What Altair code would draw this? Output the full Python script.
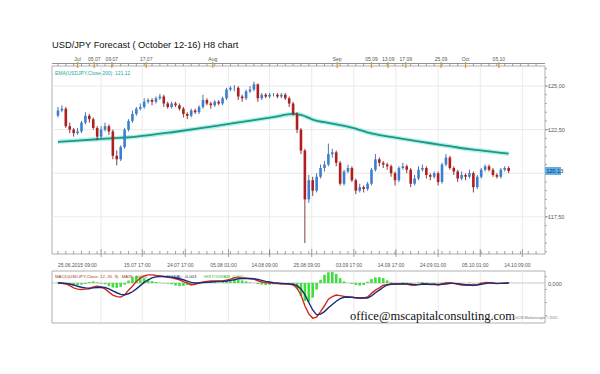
import altair as alt
import pandas as pd

# ---------------- data ----------------
opens = [123.3, 123.6, 123.7, 122.7, 122.5, 122.3, 122.4, 122.9, 123.3, 123.1,
         122.6, 122.1, 122.5, 122.7, 122.4, 121.0, 120.8, 121.5, 122.5, 123.0,
         123.4, 123.7, 123.8, 124.1, 124.2, 124.1, 124.3, 124.4, 124.0, 123.8,
         124.0, 123.9, 123.7, 123.4, 123.3, 123.6, 123.5, 123.8, 124.2, 124.0,
         123.9, 124.1, 124.0, 124.3, 124.8, 124.9, 124.9, 124.4, 124.3, 124.7,
         124.8, 125.1, 124.3, 124.5, 124.4, 124.5, 124.5, 124.4, 124.5, 124.3,
         124.0, 123.4, 122.5, 121.3, 118.5, 119.6, 119.0, 119.8, 120.3, 120.5,
         121.1, 121.2, 120.6, 119.4, 120.1, 120.3, 119.6, 119.0, 119.2, 119.1,
         119.4, 120.2, 120.8, 120.6, 120.5, 120.4, 120.0, 119.6, 120.3, 120.4,
         120.2, 119.4, 119.7, 120.2, 120.3, 119.9, 119.8, 120.0, 119.5, 120.5,
         120.9, 120.3, 120.1, 119.7, 119.9, 119.8, 120.0, 119.2, 119.8, 120.2,
         120.4, 120.2, 119.9, 119.8, 120.2, 120.3]
highs = [123.8, 123.9, 123.8, 122.9, 122.6, 122.6, 123.0, 123.5, 123.4, 123.2,
         122.7, 122.7, 122.9, 122.8, 122.5, 121.3, 121.6, 122.6, 123.1, 123.6,
         123.8, 124.0, 124.3, 124.3, 124.3, 124.4, 124.55, 124.5, 124.1, 124.1,
         124.1, 124.0, 123.8, 123.5, 123.7, 123.7, 123.9, 124.5, 124.3, 124.1,
         124.2, 124.2, 124.4, 124.9, 125.0, 125.05, 125.0, 124.5, 124.8, 125.0,
         125.25, 125.15, 124.6, 124.6, 124.6, 124.6, 124.6, 124.6, 124.6, 124.4,
         124.1, 123.5, 122.6, 121.4, 119.9, 119.8, 120.0, 120.5, 120.7, 121.7,
         121.4, 121.3, 120.7, 120.2, 120.5, 120.4, 119.7, 119.4, 119.3, 119.5,
         120.3, 121.1, 120.9, 120.7, 120.6, 120.5, 120.1, 120.4, 120.6, 120.5,
         120.3, 119.9, 120.4, 120.5, 120.4, 120.0, 120.1, 120.1, 120.6, 121.1,
         121.0, 120.4, 120.2, 120.1, 120.0, 120.2, 120.1, 119.9, 120.3, 120.5,
         120.5, 120.3, 120.0, 120.3, 120.4, 120.4]
lows = [123.2, 123.5, 122.6, 122.3, 122.1, 122.2, 122.3, 122.8, 122.9, 122.5,
        121.9, 122.0, 122.4, 122.2, 120.8, 120.45, 120.7, 121.4, 122.4, 122.9,
        123.3, 123.6, 123.7, 124.0, 123.9, 124.0, 124.2, 123.8, 123.7, 123.7,
        123.8, 123.6, 123.2, 123.1, 123.2, 123.4, 123.4, 123.7, 123.9, 123.7,
        123.8, 123.9, 123.9, 124.2, 124.7, 124.7, 124.2, 124.1, 124.2, 124.6,
        124.7, 124.1, 124.2, 124.3, 124.3, 124.4, 124.3, 124.3, 124.2, 123.8,
        123.3, 122.3, 121.1, 116.0, 118.3, 118.7, 118.9, 119.7, 120.1, 120.4,
        120.9, 120.4, 119.3, 119.3, 120.0, 119.5, 118.8, 118.9, 118.9, 119.0,
        119.3, 120.1, 120.4, 120.3, 120.2, 119.8, 119.3, 119.5, 120.2, 120.0,
        119.2, 119.3, 119.6, 120.1, 119.7, 119.6, 119.7, 119.3, 119.4, 120.4,
        120.2, 119.9, 119.5, 119.6, 119.6, 119.7, 118.9, 119.1, 119.7, 120.1,
        120.1, 119.8, 119.7, 119.7, 120.1, 120.0]
closes = [123.6, 123.7, 122.7, 122.5, 122.3, 122.4, 122.9, 123.3, 123.1, 122.6,
          122.1, 122.5, 122.7, 122.4, 121.0, 120.8, 121.5, 122.5, 123.0, 123.4,
          123.7, 123.8, 124.1, 124.2, 124.1, 124.3, 124.4, 124.0, 123.8, 124.0,
          123.9, 123.7, 123.4, 123.3, 123.6, 123.5, 123.8, 124.2, 124.0, 123.9,
          124.1, 124.0, 124.3, 124.8, 124.9, 124.9, 124.4, 124.3, 124.7, 124.8,
          125.1, 124.3, 124.5, 124.4, 124.5, 124.5, 124.4, 124.5, 124.3, 124.0,
          123.4, 122.5, 121.3, 118.5, 119.6, 119.0, 119.8, 120.3, 120.5, 121.1,
          121.2, 120.6, 119.4, 120.1, 120.3, 119.6, 119.0, 119.2, 119.1, 119.4,
          120.2, 120.8, 120.6, 120.5, 120.4, 120.0, 119.6, 120.3, 120.4, 120.2,
          119.4, 119.7, 120.2, 120.3, 119.9, 119.8, 120.0, 119.5, 120.5, 120.9,
          120.3, 120.1, 119.7, 119.9, 119.8, 120.0, 119.2, 119.8, 120.2, 120.4,
          120.2, 119.9, 119.8, 120.2, 120.3, 120.13]

ema_idx = [0, 10, 20, 30, 40, 50, 55, 60, 62, 65, 70, 75, 80, 85, 90, 95, 100, 105, 110, 115]
ema_vals = [121.80, 121.95, 122.10, 122.38, 122.70, 123.05, 123.22, 123.40, 123.35, 123.08,
            122.85, 122.62, 122.28, 122.08, 121.90, 121.72, 121.55, 121.38, 121.25, 121.12]

macd_main = [0.0, -0.01, -0.03, -0.08, -0.15, -0.19, -0.20, -0.19, -0.18, -0.12,
             -0.10, -0.12, -0.18, -0.28, -0.37, -0.42, -0.43, -0.37, -0.22, -0.10,
             0.05, 0.15, 0.22, 0.25, 0.25, 0.23, 0.22, 0.20, 0.18, 0.16,
             0.13, 0.10, 0.04, 0.0, -0.06, -0.04, 0.0, 0.03, 0.05, 0.06,
             0.06, 0.06, 0.06, 0.09, 0.12, 0.16, 0.18, 0.16, 0.15, 0.13,
             0.12, 0.07, 0.03, 0.01, 0.0, -0.01, -0.02, -0.03, -0.03, -0.03,
             -0.06, -0.15, -0.37, -0.70, -0.95, -1.08, -1.05, -0.88, -0.70, -0.50,
             -0.42, -0.37, -0.39, -0.41, -0.43, -0.44, -0.46, -0.46, -0.46, -0.43,
             -0.32, -0.22, -0.15, -0.07, -0.05, -0.03, -0.04, -0.03, -0.02, -0.03,
             -0.06, -0.07, -0.05, -0.02, -0.03, -0.05, -0.04, -0.06, -0.03, 0.0,
             0.01, -0.01, -0.04, -0.06, -0.07, -0.06, -0.08, -0.05, -0.01, 0.02,
             0.01, -0.01, -0.02, -0.01, 0.0, 0.0]
macd_signal = [0.0, 0.0, -0.01, -0.03, -0.06, -0.10, -0.13, -0.15, -0.16, -0.15,
               -0.14, -0.13, -0.14, -0.18, -0.24, -0.30, -0.35, -0.36, -0.33, -0.27,
               -0.18, -0.08, 0.02, 0.10, 0.16, 0.19, 0.20, 0.20, 0.19, 0.18,
               0.16, 0.13, 0.10, 0.06, 0.02, 0.0, 0.0, 0.01, 0.02, 0.03,
               0.04, 0.05, 0.05, 0.06, 0.08, 0.10, 0.13, 0.14, 0.14, 0.14,
               0.13, 0.11, 0.08, 0.05, 0.03, 0.01, 0.0, -0.01, -0.02, -0.03,
               -0.04, -0.08, -0.18, -0.36, -0.60, -0.83, -0.98, -0.96, -0.88, -0.76,
               -0.66, -0.56, -0.48, -0.44, -0.43, -0.44, -0.45, -0.46, -0.46, -0.46,
               -0.40, -0.30, -0.22, -0.13, -0.06, -0.04, -0.03, -0.03, -0.03, -0.03,
               -0.04, -0.05, -0.05, -0.04, -0.03, -0.04, -0.04, -0.05, -0.04, -0.03,
               -0.01, -0.01, -0.02, -0.04, -0.05, -0.06, -0.06, -0.06, -0.04, -0.02,
               0.0, 0.0, -0.01, -0.01, -0.01, 0.0]
macd_hist = [0.02, 0.0, -0.03, -0.06, -0.08, -0.07, -0.05, -0.03, 0.03, 0.05,
             0.02, -0.02, -0.04, -0.10, -0.14, -0.15, -0.12, -0.05, 0.08, 0.18,
             0.22, 0.20, 0.15, 0.10, 0.06, 0.03, 0.01, -0.01, -0.02, -0.04,
             -0.08, -0.10, -0.09, -0.06, -0.04, -0.02, 0.0, 0.02, 0.03, 0.03,
             0.02, 0.02, 0.04, 0.08, 0.10, 0.12, 0.10, 0.08, 0.05, 0.02,
             0.0, -0.03, -0.05, -0.06, -0.05, -0.04, -0.03, -0.02, -0.02, -0.03,
             -0.06, -0.20, -0.40, -0.55, -0.58, -0.45, -0.20, 0.10, 0.25, 0.33,
             0.34, 0.28, 0.15, 0.05, 0.0, -0.03, -0.06, -0.08, -0.06, 0.04,
             0.12, 0.17, 0.18, 0.15, 0.08, 0.02, 0.01, -0.01, 0.02, 0.01,
             -0.02, -0.01, 0.02, 0.03, 0.01, -0.01, 0.0, -0.02, 0.01, 0.03,
             0.02, 0.0, -0.02, -0.01, 0.0, 0.01, -0.01, 0.0, 0.02, 0.03,
             0.02, 0.01, 0.0, 0.01, 0.02, 0.02]

price_ticks = [125.0, 122.5, 117.5]
price_tick_labels = ["125,00", "122,50", "117,50"]
price_grid = [125.0, 122.5, 120.0, 117.5]
last_price_label = "120,13"

bottom_pos = [0, 21.5, 32.5, 43.5, 54, 64.75, 75.5, 86.25, 97, 107.75, 118.5]
bottom_labels = ["25.06.2015 09:00", "15.07 17:00", "24.07 17:00", "05.08 01:00",
                 "14.08 09:00", "25.08 09:00", "03.09 17:00", "14.09 17:00",
                 "24.09 01:00", "05.10 01:00", "14.10 09:00"]
grid_pos = [11, 21.5, 32.5, 43.5, 54, 64.75, 75.5, 86.25, 97, 107.75, 118.5]

top_pos = [5, 9.25, 13.75, 22.5, 39.5, 71.25, 80, 84.25, 88.75, 97.75, 104, 112.5]
top_labels = ["Jul", "05.07", "09.07", "17.07", "Aug", "Sep", "05.09", "13.09",
              "17.09", "25.09", "Oct", "05.10"]

# ---------------- tables ----------------
n = min(len(opens), len(highs), len(lows), len(closes))
candles = pd.DataFrame({"i": list(range(n)), "open": opens[:n], "high": highs[:n],
                        "low": lows[:n], "close": closes[:n]})
m = min(len(macd_main), len(macd_signal), len(macd_hist))
macd = pd.DataFrame({"i": list(range(m)), "main": macd_main[:m],
                     "signal": macd_signal[:m], "hist": macd_hist[:m]})
ema = pd.DataFrame({"i": ema_idx, "ema": ema_vals})
pgrid = pd.DataFrame({"v": price_grid})
pticks = pd.DataFrame({"v": price_ticks, "label": price_tick_labels})
pminor = pd.DataFrame({"v": [115.5 + 0.5 * k for k in range(22)]})
last = pd.DataFrame({"v": [closes[n - 1]], "label": [last_price_label]})
bottom = pd.DataFrame({"p": bottom_pos, "label": bottom_labels})
vgrid = pd.DataFrame({"p": grid_pos})
top = pd.DataFrame({"p": top_pos, "label": top_labels})
minor_x = pd.DataFrame({"p": [k * 2 for k in range(62)]})
mminor = pd.DataFrame({"v": [-1.0, -0.6, -0.2, 0.2]})
one = pd.DataFrame({"k": [0]})

xs = alt.Scale(domain=[-0.25, 123], range=[52, 545])
ps = alt.Scale(domain=[115.37, 126.15], range=[254, 66], zero=False, nice=False)
ms = alt.Scale(domain=[-1.2, 0.4], range=[322, 270], zero=False, nice=False)

def X(f):
    return alt.X(f, type="quantitative", scale=xs, axis=None)

def PY(f):
    return alt.Y(f, type="quantitative", scale=ps, axis=None)

def MY(f):
    return alt.Y(f, type="quantitative", scale=ms, axis=None)

FONT = "Liberation Sans"
GRID = "#e4e4e4"
FRAME = "#9c9c9c"
UP = "#3b7fd3"
DOWN = "#b01e1e"

layers = []

# panel backgrounds/frames
layers.append(alt.Chart(one).mark_rect(fill="white", stroke=FRAME, strokeWidth=0.8).encode(
    x=alt.value(52), x2=alt.value(545), y=alt.value(66), y2=alt.value(254)))
layers.append(alt.Chart(one).mark_rect(fill="white", stroke=FRAME, strokeWidth=0.8).encode(
    x=alt.value(52), x2=alt.value(545), y=alt.value(271), y2=alt.value(323)))

# vertical grid
layers.append(alt.Chart(vgrid).mark_rule(color=GRID, strokeWidth=0.8).encode(
    x=X("p"), y=alt.value(66), y2=alt.value(254)))
layers.append(alt.Chart(vgrid).mark_rule(color=GRID, strokeWidth=0.8).encode(
    x=X("p"), y=alt.value(271), y2=alt.value(323)))
# horizontal grid
layers.append(alt.Chart(pgrid).mark_rule(color=GRID, strokeWidth=0.8).encode(
    y=PY("v"), x=alt.value(52), x2=alt.value(545)))

# EMA
layers.append(alt.Chart(ema).mark_line(color="#b5eef0", strokeWidth=4.5, interpolate="monotone").encode(
    x=X("i"), y=PY("ema")))
layers.append(alt.Chart(ema).mark_line(color="#1c9a7c", strokeWidth=1.8, interpolate="monotone").encode(
    x=X("i"), y=PY("ema")))

# candles
col_wick = alt.condition("datum.close >= datum.open", alt.value("#24508c"), alt.value("#5e1010"))
col_body = alt.condition("datum.close >= datum.open", alt.value(UP), alt.value(DOWN))
layers.append(alt.Chart(candles).mark_rule(strokeWidth=0.8).encode(
    x=X("i"), y=PY("low"), y2="high", color=col_wick))
layers.append(alt.Chart(candles).mark_bar(size=2.6).encode(
    x=X("i"), y=PY("open"), y2="close", color=col_body))

# right price axis
layers.append(alt.Chart(pminor).mark_rule(color="#777", strokeWidth=0.6).encode(
    y=PY("v"), x=alt.value(545), x2=alt.value(547)))
layers.append(alt.Chart(pticks).mark_rule(color="#777", strokeWidth=0.6).encode(
    y=PY("v"), x=alt.value(545), x2=alt.value(549)))
layers.append(alt.Chart(pticks).mark_text(align="left", baseline="middle", fontSize=5.5,
                                          font=FONT, color="#555").encode(
    y=PY("v"), x=alt.value(548), text="label"))
layers.append(alt.Chart(last).mark_rule(color="#5fb0e8", strokeWidth=8).encode(
    y=PY("v"), x=alt.value(545), x2=alt.value(561)))
layers.append(alt.Chart(last).mark_text(align="left", baseline="middle", fontSize=5.5,
                                        font=FONT, color="#1a2a55").encode(
    y=PY("v"), x=alt.value(546.5), text="label"))

# bottom time axis
layers.append(alt.Chart(minor_x).mark_rule(color="#666", strokeWidth=0.6).encode(
    x=X("p"), y=alt.value(251), y2=alt.value(254)))
layers.append(alt.Chart(vgrid).mark_rule(color="#666", strokeWidth=0.6).encode(
    x=X("p"), y=alt.value(249), y2=alt.value(257)))
layers.append(alt.Chart(bottom[bottom.p > 0]).mark_text(align="center", baseline="middle", fontSize=5,
                                                        font=FONT, color="#555", dx=-5).encode(
    x=X("p"), y=alt.value(265), text="label"))
layers.append(alt.Chart(bottom[bottom.p == 0]).mark_text(align="left", baseline="middle", fontSize=5,
                                                         font=FONT, color="#555").encode(
    x=X("p"), y=alt.value(265), text="label"))

# top time ruler
layers.append(alt.Chart(one).mark_rule(color="#666", strokeWidth=0.7).encode(
    x=alt.value(52), x2=alt.value(545), y=alt.value(63.5)))
layers.append(alt.Chart(minor_x).mark_rule(color="#666", strokeWidth=0.6).encode(
    x=X("p"), y=alt.value(63.5), y2=alt.value(66)))
layers.append(alt.Chart(top).mark_rule(color="#d49a2a", strokeWidth=1.2).encode(
    x=X("p"), y=alt.value(62), y2=alt.value(68)))
layers.append(alt.Chart(top).mark_text(align="center", baseline="middle", fontSize=5,
                                       font=FONT, color="#555").encode(
    x=X("p"), y=alt.value(59), text="label"))

# MACD
layers.append(alt.Chart(one).mark_rule(color="#bbbbbb", strokeWidth=0.8).encode(
    y=alt.Y(datum=0, scale=ms, axis=None), x=alt.value(52), x2=alt.value(545)))
layers.append(alt.Chart(macd).mark_bar(size=2.6, color="#3ee03e").encode(
    x=X("i"), y=MY("hist"), y2=alt.Y2(datum=0)))
layers.append(alt.Chart(macd).mark_line(color="#d42a1e", strokeWidth=1.4).encode(
    x=X("i"), y=MY("main")))
layers.append(alt.Chart(macd).mark_line(color="#1b2a7a", strokeWidth=1.4).encode(
    x=X("i"), y=MY("signal")))
layers.append(alt.Chart(mminor).mark_rule(color="#777", strokeWidth=0.6).encode(
    y=MY("v"), x=alt.value(545), x2=alt.value(547)))
layers.append(alt.Chart(one).mark_text(align="left", baseline="middle", fontSize=5.5,
                                       font=FONT, color="#555", text="0,000").encode(
    x=alt.value(548), y=alt.value(284)))

# texts
def txt(s, x, y, size, color, font=FONT, weight="normal"):
    return alt.Chart(one).mark_text(align="left", baseline="alphabetic", fontSize=size,
                                    font=font, color=color, text=s, fontWeight=weight).encode(
        x=alt.value(x), y=alt.value(y))

layers.append(txt("USD/JPY Forecast ( October 12-16) H8 chart", 52, 48, 9.3, "#111"))
layers.append(txt("EMA(USDJPY,Close,200): 121,12", 55, 75, 5, "#2aa3a3"))
layers.append(txt("MACD(USDJPY,Close, 12, 26, 9) : MAIN: -0,005", 55, 278, 4.3, "#a03a2a"))
layers.append(txt("SIGNAL: -0,003", 166, 278, 4.3, "#1b2a7a"))
layers.append(txt("HISTOGRAM: 0,002", 204, 278, 4.3, "#33bb33"))
layers.append(txt("office@mscapitalconsulting.com", 350, 320, 12.5, "#111", font="Liberation Serif"))
layers.append(txt("GCM Marketscope \u00a9 2015", 515, 319, 3.6, "#777"))

chart = alt.layer(*layers).resolve_scale(y="independent").properties(
    width=600, height=374, background="white",
    autosize=alt.AutoSizeParams(type="none"), padding=0
).configure_view(stroke=None)

chart.save("out.html", embed_options={"renderer": "svg", "actions": False})
